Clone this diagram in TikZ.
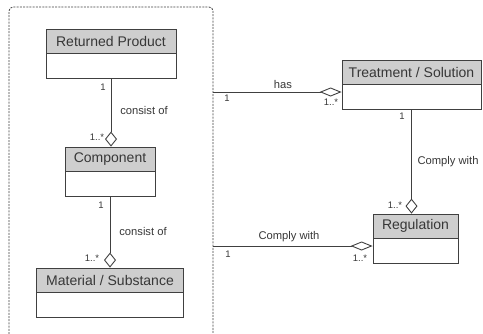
\documentclass[tikz,border=0pt]{standalone}
\usepackage{fontspec}
\setmainfont{Liberation Sans}
\usetikzlibrary{arrows.meta,positioning}

\definecolor{headgray}{RGB}{206,206,206}
\definecolor{linegray}{RGB}{64,64,64}
\definecolor{textgray}{RGB}{55,55,55}

\tikzset{
  classhead/.style={draw=linegray,fill=headgray,line width=0.8pt,minimum height=24pt,inner sep=0pt,
    text=textgray,font=\fontsize{14}{16}\selectfont},
  classbody/.style={draw=linegray,fill=white,line width=0.8pt,minimum height=25pt,inner sep=0pt},
  assoc/.style={draw=linegray,line width=0.9pt},
  aggr/.style={assoc,-{Diamond[open,length=15pt,width=12pt]}},
  aggrwide/.style={assoc,-{Diamond[open,length=22pt,width=9pt]}},
  relname/.style={text=textgray,font=\fontsize{11.2}{13}\selectfont,inner sep=0pt},
  mult/.style={text=textgray,font=\fontsize{9.5}{11}\selectfont,inner sep=0pt},
  frame/.style={draw=linegray,line width=0.8pt,dash pattern=on 2pt off 1.2pt,rounded corners=4pt}
}

\begin{document}
\begin{tikzpicture}[x=1pt,y=-1pt]
\useasboundingbox (0,0) rectangle (483,333);

% product side
\draw[frame] (9,334) -- (9,7) -- (213,7) -- (213,334);
\coordinate (framehas) at (213,92);
\coordinate (framereg) at (213,246);

\node[classhead,minimum width=130pt] (product) at (111,41) {Returned Product};
\node[classbody,minimum width=130pt,below=0pt of product] (productbody) {};

\node[classhead,minimum width=90pt] (component) at (110,159) {Component};
\node[classbody,minimum width=90pt,below=0pt of component] (componentbody) {};

\node[classhead,minimum width=147pt] (material) at (110,280) {Material / Substance};
\node[classbody,minimum width=147pt,below=0pt of material] (materialbody) {};

% treatment and regulation
\node[classhead,minimum width=139pt] (treatment) at (411.5,72) {Treatment / Solution};
\node[classbody,minimum width=139pt,below=0pt of treatment] (treatmentbody) {};

\node[classhead,minimum width=85pt] (regulation) at (415.5,226) {Regulation};
\node[classbody,minimum width=85pt,below=0pt of regulation] (regulationbody) {};

% associations
\draw[aggr] (productbody.south) -- (productbody.south |- component.north);
\node[mult] at (103,87) {1};
\node[relname] at (144,110) {consist of};
\node[mult] at (97,137) {1..*};

\draw[aggr] (componentbody.south) -- (componentbody.south |- material.north);
\node[mult] at (101,205) {1};
\node[relname] at (143,231) {consist of};
\node[mult] at (92,258) {1..*};

\draw[aggrwide] (framehas) -- (framehas -| treatmentbody.west);
\node[mult] at (227,98) {1};
\node[relname] at (283,84) {has};
\node[mult] at (331,102) {1..*};

\draw[aggr] (treatmentbody.south) -- (treatmentbody.south |- regulation.north);
\node[mult] at (402,116) {1};
\node[relname] at (448,162) {Comply with};
\node[mult] at (395,205) {1..*};

\draw[aggrwide] (framereg) -- (framereg -| regulationbody.west);
\node[mult] at (228,254) {1};
\node[relname] at (289,237) {Comply with};
\node[mult] at (360,258) {1..*};

\end{tikzpicture}
\end{document}
